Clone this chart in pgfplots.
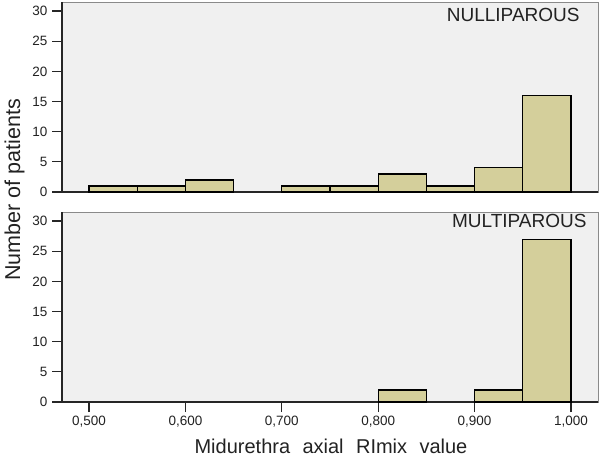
\documentclass[border=0pt]{standalone}
\usepackage{pgfplots}
\pgfplotsset{compat=1.18}
\usepackage{fontspec}
\setmainfont{Liberation Sans}
\definecolor{barfill}{HTML}{D4CF9B}
\definecolor{bg}{HTML}{F0F0F0}
\definecolor{framegray}{HTML}{8A8A8A}
\definecolor{txt}{HTML}{222222}
\pgfplotsset{
  hist/.style={
    scale only axis, width=536bp, height=190bp,
    xmin=0.472, xmax=1.028, ymin=0, ymax=31.5,
    axis x line*=bottom, axis y line*=left,
    axis line style={line width=1.3bp, color=black!85, -},
    axis background/.style={fill=bg, draw=framegray, line width=0.9bp},
    ytick={0,5,...,30},
    tick align=outside,
    major tick length=10bp,
    tick style={line width=1.3bp, color=black!85},
    yticklabel style={font=\fontsize{13.5bp}{16bp}\selectfont, text=txt, xshift=-1bp},
    xticklabel style={font=\fontsize{13.5bp}{16bp}\selectfont, text=txt},
    /pgf/number format/assume math mode=true,
    clip=false,
  },
  bars/.style={ybar, bar width=0.05, fill=barfill, draw=black, line width=1.2bp},
}
\begin{document}
\begin{tikzpicture}
\useasboundingbox (0,0) rectangle (600bp,457bp);
% top panel
\begin{axis}[hist, at={(62bp,265bp)}, anchor=south west, xtick=\empty]
\addplot[bars] coordinates {
  (0.525,1) (0.575,1) (0.625,2) (0.725,1) (0.775,1)
  (0.825,3) (0.875,1) (0.925,4) (0.975,16)
};
\node[anchor=base east, font=\fontsize{19bp}{22bp}\selectfont, text=txt, inner sep=0pt]
  at (rel axis cs:0.966,0.895) {NULLIPAROUS};
\end{axis}
% bottom panel
\begin{axis}[hist, at={(62bp,55bp)}, anchor=south west,
  xtick={0.5,0.6,0.7,0.8,0.9,1.0},
  xticklabel={\pgfmathprintnumber[fixed, fixed zerofill, precision=3, use comma]{\tick}},
  xticklabel style={yshift=-1bp}]
\addplot[bars] coordinates {
  (0.825,2) (0.925,2) (0.975,27)
};
\node[anchor=base east, font=\fontsize{19bp}{22bp}\selectfont, text=txt, inner sep=0pt]
  at (rel axis cs:0.979,0.916) {MULTIPAROUS};
\end{axis}
% axis titles
\node[anchor=base, font=\fontsize{20bp}{24bp}\selectfont, text=txt, inner sep=0pt]
  at (331bp,4bp) {Midurethra\hspace{0.62em}axial\hspace{0.62em}RImix\hspace{0.62em}value};
\node[anchor=base, rotate=90, font=\fontsize{21.5bp}{24bp}\selectfont, text=txt, inner sep=0pt]
  at (20bp,267bp) {Number of patients};
\end{tikzpicture}
\end{document}
